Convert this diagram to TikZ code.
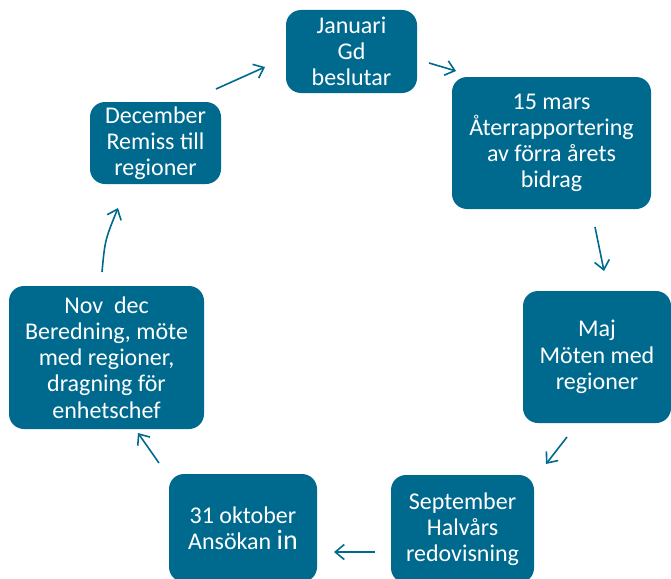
\documentclass[tikz,border=0pt]{standalone}
\usepackage{fontspec}
\setmainfont{Carlito}
\usetikzlibrary{arrows.meta}
\definecolor{petrol}{RGB}{0,106,142}
\begin{document}
\begin{tikzpicture}[x=1pt,y=-1pt,
	box/.style={fill=petrol,text=white,rounded corners=15pt,align=center,inner sep=0pt,font=\fontsize{24}{26.2}\selectfont},
	pil/.style={draw=petrol,line width=1.6pt,-{Straight Barb[length=9pt,width=15pt]}}]
				\useasboundingbox (0,0) rectangle (671,578);
				\node[box,minimum width=131pt,minimum height=83pt] (jan) at (351.5,51.5) {Januari\\Gd\\beslutar};
				\node[box,minimum width=199pt,minimum height=132pt] (mars) at (551.5,143) {15 mars\\Återrapportering\\av förra årets\\bidrag};
				\node[box,minimum width=148pt,minimum height=132pt] (maj) at (597,357) {Maj\\Möten med\\regioner};
				\node[box,minimum width=143pt,minimum height=108pt] (sep) at (462.5,529) {September\\Halvårs\\redovisning};
				\node[box,minimum width=148pt,minimum height=108pt] (okt) at (243,528) {31 oktober\\Ansökan {\fontsize{28}{26.2}\selectfont in}};
				\node[box,minimum width=195pt,minimum height=143pt] (nov) at (106.5,357.5) {Nov~ dec\\Beredning, möte\\med regioner,\\dragning för\\enhetschef};
				\node[box,minimum width=131pt,minimum height=82pt] (dec) at (155.5,143) {December\\Remiss till\\regioner};
				\coordinate (A) at (216,89);
				\coordinate (A1) at (265,67);
				\coordinate (B) at (429,63);
				\coordinate (B1) at (456,71);
				\coordinate (C) at (595,227);
				\coordinate (C1) at (604,271);
				\coordinate (D) at (567,437);
				\coordinate (D1) at (546,464);
				\coordinate (E) at (375,552);
				\coordinate (E1) at (334,552);
				\coordinate (F) at (159,463);
				\coordinate (F1) at (138,433);
				\coordinate (G) at (102,272);
				\coordinate (G1) at (118,208);
				\draw [pil] (A) to (A1);
				\draw [pil] (B) to (B1);
				\draw [pil] (C) to (C1);
				\draw [pil] (D) to (D1);
				\draw [pil] (E) to (E1);
				\draw [pil] (F) to (F1);
				\draw [pil] (G) .. controls (105,240) .. (G1);
			\end{tikzpicture}
\end{document}
